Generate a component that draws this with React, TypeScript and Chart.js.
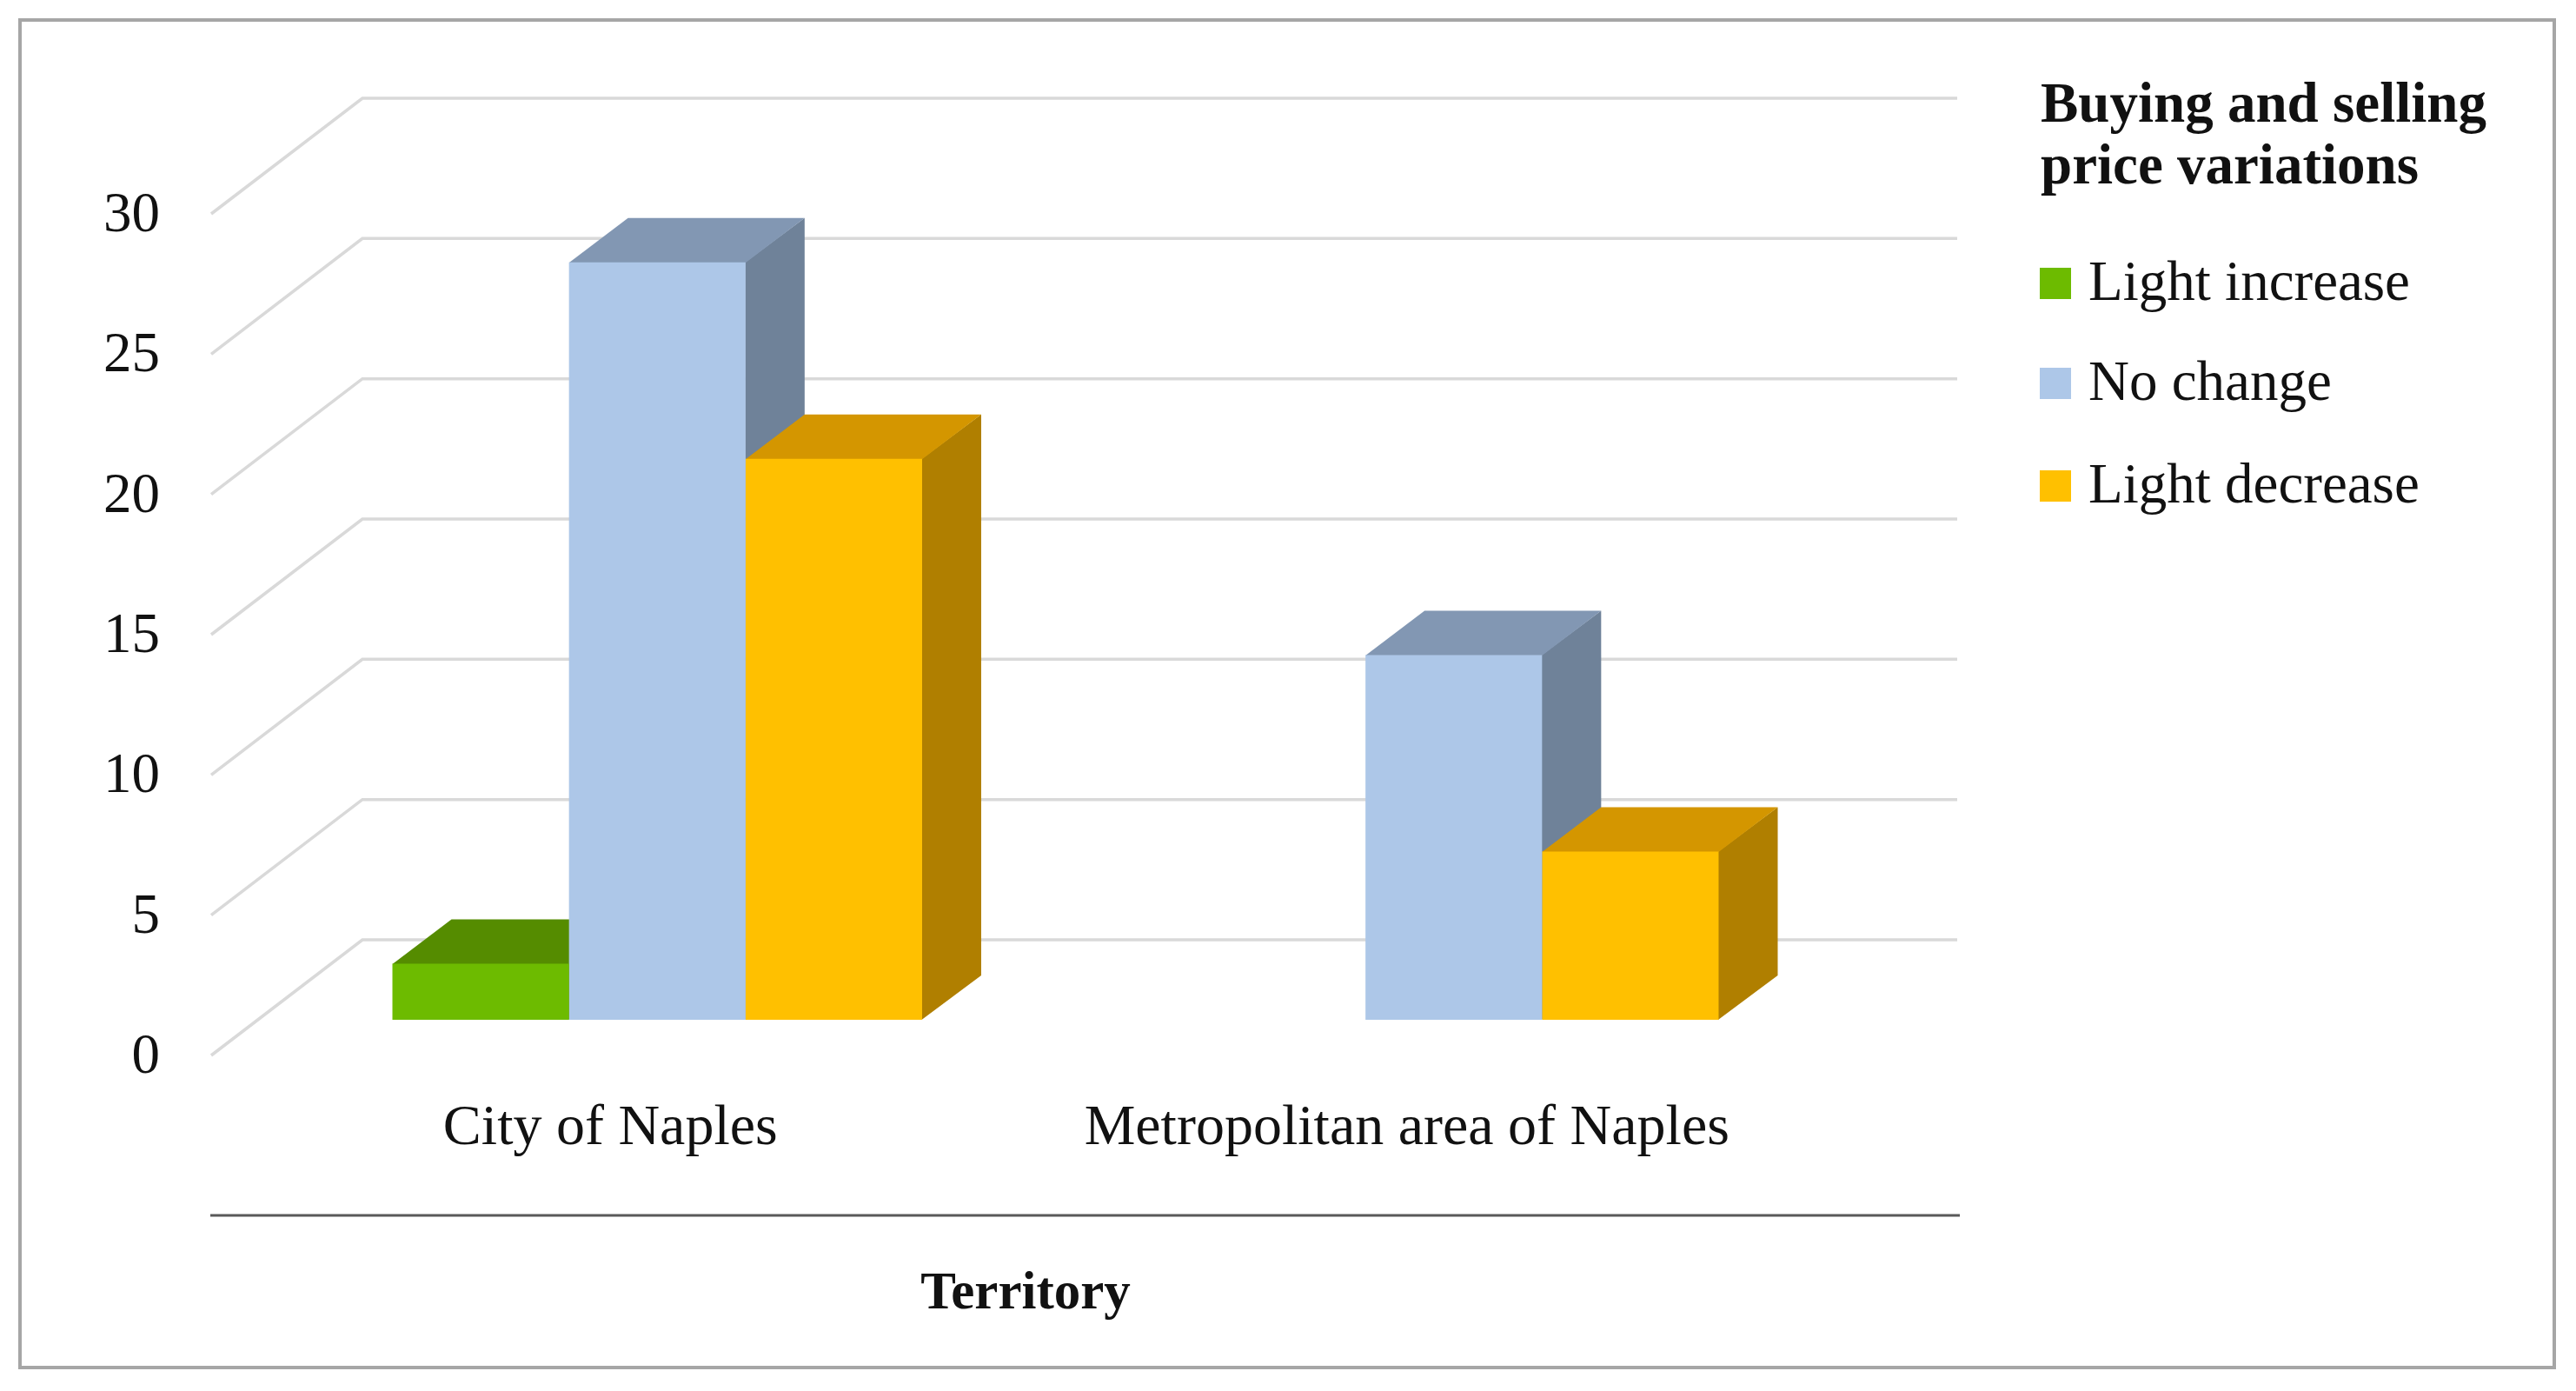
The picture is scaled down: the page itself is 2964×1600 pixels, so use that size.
import React, { useEffect, useRef } from "react";
import { Chart, registerables } from "chart.js";

Chart.register(...registerables);

// ---- data ----
const categories = ["City of Naples", "Metropolitan area of Naples"];
const seriesLabels = ["Light increase", "No change", "Light decrease"];
const lightIncrease = [2, 0];
const noChange = [27, 13];
const lightDecrease = [20, 6];
const yMin = 0;
const yMax = 30;
const yStep = 5;
const legendTitle = ["Buying and selling", "price variations"];
const xTitle = "Territory";

// ---- styles ----
const FRONT = ["#6DBB00", "#ADC7E8", "#FFC000"];
const TOP = ["#558C00", "#8297B3", "#D49600"];
const SIDE = ["#4A7800", "#6F8299", "#B07F00"];
const FONT = "'Liberation Serif', 'Times New Roman', serif";
const TEXT = "#111111";

const W = 2964;
const H = 1600;
const DX = 68;
const DY = -51;

const threeDPlugin = {
  id: "threeD",
  beforeDraw(chart: any) {
    const ctx = chart.ctx;
    ctx.save();
    ctx.fillStyle = "#ffffff";
    ctx.fillRect(0, 0, W, H);
    ctx.strokeStyle = "#a6a6a6";
    ctx.lineWidth = 4;
    ctx.strokeRect(23, 23, 2916, 1550);
    ctx.restore();
  },
  beforeDatasetsDraw(chart: any) {
    const ctx = chart.ctx;
    const ys = chart.scales.y;
    ctx.save();
    // walls / gridlines
    ctx.strokeStyle = "#d9d9d9";
    ctx.lineWidth = 3.5;
    ctx.lineJoin = "miter";
    ys.ticks.forEach((t: any) => {
      const p = ys.getPixelForValue(t.value);
      ctx.beginPath();
      ctx.moveTo(243, p + 41);
      ctx.lineTo(417, p - 92);
      ctx.lineTo(2252, p - 92);
      ctx.stroke();
    });
    // 3D tops and sides
    chart.data.datasets.forEach((ds: any, i: number) => {
      const meta = chart.getDatasetMeta(i);
      meta.data.forEach((bar: any, j: number) => {
        const v = ds.data[j];
        if (!v) return;
        const { x, y, base, width } = bar.getProps(["x", "y", "base", "width"], true);
        const l = x - width / 2;
        const r = x + width / 2;
        ctx.fillStyle = SIDE[i];
        ctx.beginPath();
        ctx.moveTo(r - 0.5, y);
        ctx.lineTo(r + DX, y + DY);
        ctx.lineTo(r + DX, base + DY);
        ctx.lineTo(r - 0.5, base);
        ctx.closePath();
        ctx.fill();
        ctx.fillStyle = TOP[i];
        ctx.beginPath();
        ctx.moveTo(l, y + 0.5);
        ctx.lineTo(r, y + 0.5);
        ctx.lineTo(r + DX, y + DY);
        ctx.lineTo(l + DX, y + DY);
        ctx.closePath();
        ctx.fill();
      });
    });
    ctx.restore();
  },
  afterDraw(chart: any) {
    const ctx = chart.ctx;
    ctx.save();
    // axis line under category labels
    ctx.strokeStyle = "#595959";
    ctx.lineWidth = 3;
    ctx.beginPath();
    ctx.moveTo(242, 1398);
    ctx.lineTo(2255, 1398);
    ctx.stroke();
    // axis title
    ctx.fillStyle = TEXT;
    ctx.textBaseline = "alphabetic";
    ctx.textAlign = "center";
    ctx.font = `bold 61px ${FONT}`;
    ctx.fillText(xTitle, 1180, 1505);
    // legend
    ctx.textAlign = "left";
    ctx.font = `bold 65px ${FONT}`;
    ctx.fillText(legendTitle[0], 2348, 140);
    ctx.fillText(legendTitle[1], 2348, 211);
    ctx.font = `65px ${FONT}`;
    const baselines = [345, 460, 578];
    chart.data.datasets.forEach((ds: any, i: number) => {
      const b = baselines[i];
      ctx.fillStyle = FRONT[i];
      ctx.fillRect(2347, b - 37, 36, 36);
      ctx.fillStyle = TEXT;
      ctx.fillText(ds.label, 2403, b);
    });
    ctx.restore();
  },
};

export default function App() {
  const ref = useRef<HTMLCanvasElement | null>(null);
  useEffect(() => {
    if (!ref.current) return;
    const seriesData = [lightIncrease, noChange, lightDecrease];
    const chart = new Chart(ref.current, {
      type: "bar",
      data: {
        labels: categories,
        datasets: seriesLabels.map((label, i) => ({
          label,
          data: seriesData[i],
          backgroundColor: FRONT[i],
          borderWidth: 0,
          categoryPercentage: 0.665,
          barPercentage: 1.0,
        })),
      },
      options: {
        responsive: false,
        animation: false,
        devicePixelRatio: 1,
        layout: { padding: { left: 0, right: 833, top: 205, bottom: 0 } },
        plugins: {
          legend: { display: false },
          tooltip: { enabled: false },
          title: { display: false },
        },
        scales: {
          x: {
            grid: { display: false, drawTicks: false },
            border: { display: false },
            ticks: {
              padding: 86,
              labelOffset: -54,
              color: TEXT,
              font: { family: FONT, size: 66, lineHeight: 1.2 },
              maxRotation: 0,
              autoSkip: false,
            },
            afterFit: (s: any) => {
              s.height = 427;
            },
          },
          y: {
            min: yMin,
            max: yMax,
            grid: { display: false, drawTicks: false },
            border: { display: false },
            ticks: {
              stepSize: yStep,
              padding: 114,
              labelOffset: 44,
              color: TEXT,
              font: { family: FONT, size: 65 },
            },
            afterFit: (s: any) => {
              s.width = 298;
            },
          },
        },
      },
      plugins: [threeDPlugin],
    });
    return () => chart.destroy();
  }, []);
  return (
    <div style={{ position: "absolute", left: 0, top: 0, width: W, height: H, background: "#fff" }}>
      <canvas ref={ref} width={W} height={H} style={{ display: "block", width: W, height: H }} />
    </div>
  );
}
